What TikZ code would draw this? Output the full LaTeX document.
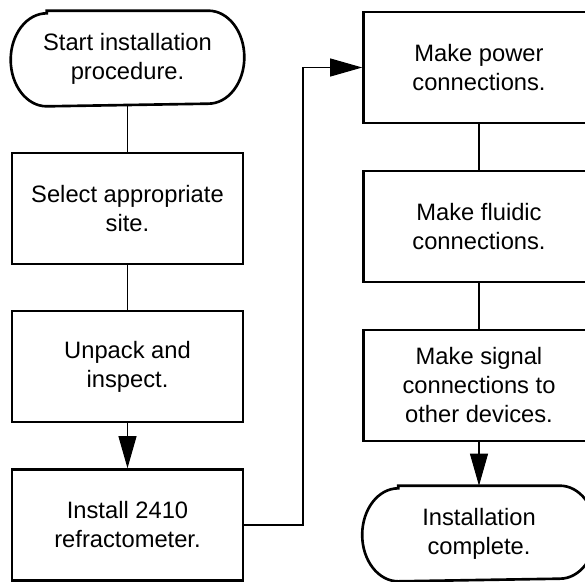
\documentclass[tikz,border=0pt]{standalone}
\usepackage{fontspec}
\setmainfont{Liberation Sans}
\usetikzlibrary{arrows.meta}

% outline of a start/end node: straight sides with elliptic ends
\newcommand{\termoutline}[1]{%
	\draw [outline] ([xshift=0.72cm]#1.north west) -- ([xshift=-0.72cm]#1.north east)
		arc [start angle=90, end angle=-90, x radius=0.72cm, y radius=0.93cm]
		-- ([xshift=0.72cm]#1.south west)
		arc [start angle=270, end angle=90, x radius=0.72cm, y radius=0.93cm] -- cycle;}

\begin{document}
\begin{tikzpicture}[
		outline/.style={line width=1.5pt},
		box/.style={draw, outline, minimum width=4.62cm, minimum height=2.22cm,
			align=center, inner sep=0pt, font=\fontsize{13.5}{16.5}\selectfont},
		term/.style={box, draw=none, minimum height=1.86cm},
		link/.style={line width=0.6pt},
		flow/.style={link, -{Triangle[length=0.64cm, width=0.36cm]}}
	]
			\clip (0,0) rectangle (11.7,11.62);

			% left column
			\node [term] (start) at (2.55,10.45) {Start installation\\procedure.};
			\node [box] (site) at (2.55,7.45) {Select appropriate\\site.};
			\node [box] (unpack) at (2.55,4.29) {Unpack and\\inspect.};
			\node [box] (install) at (2.55,1.12) {Install 2410\\refractometer.};

			% right column
			\node [box] (power) at (9.58,10.27) {Make power\\connections.};
			\node [box] (fluidic) at (9.58,7.09) {Make fluidic\\connections.};
			\node [box] (signal) at (9.58,3.91) {Make signal\\connections to\\other devices.};
			\node [term] (done) at (9.58,0.95) {Installation\\complete.};

			\termoutline{start}
			\termoutline{done}

			\coordinate (riser) at (6.06,5);

			\draw [link] (start) -- (site);
			\draw [link] (site) -- (unpack);
			\draw [flow] (unpack) -- (install);
			\draw [flow] (install.east) -- (install.east -| riser) -- (riser |- power.west) -- (power.west);
			\draw [link] (power) -- (fluidic);
			\draw [link] (fluidic) -- (signal);
			\draw [flow] (signal) -- (done);
\end{tikzpicture}
\end{document}
